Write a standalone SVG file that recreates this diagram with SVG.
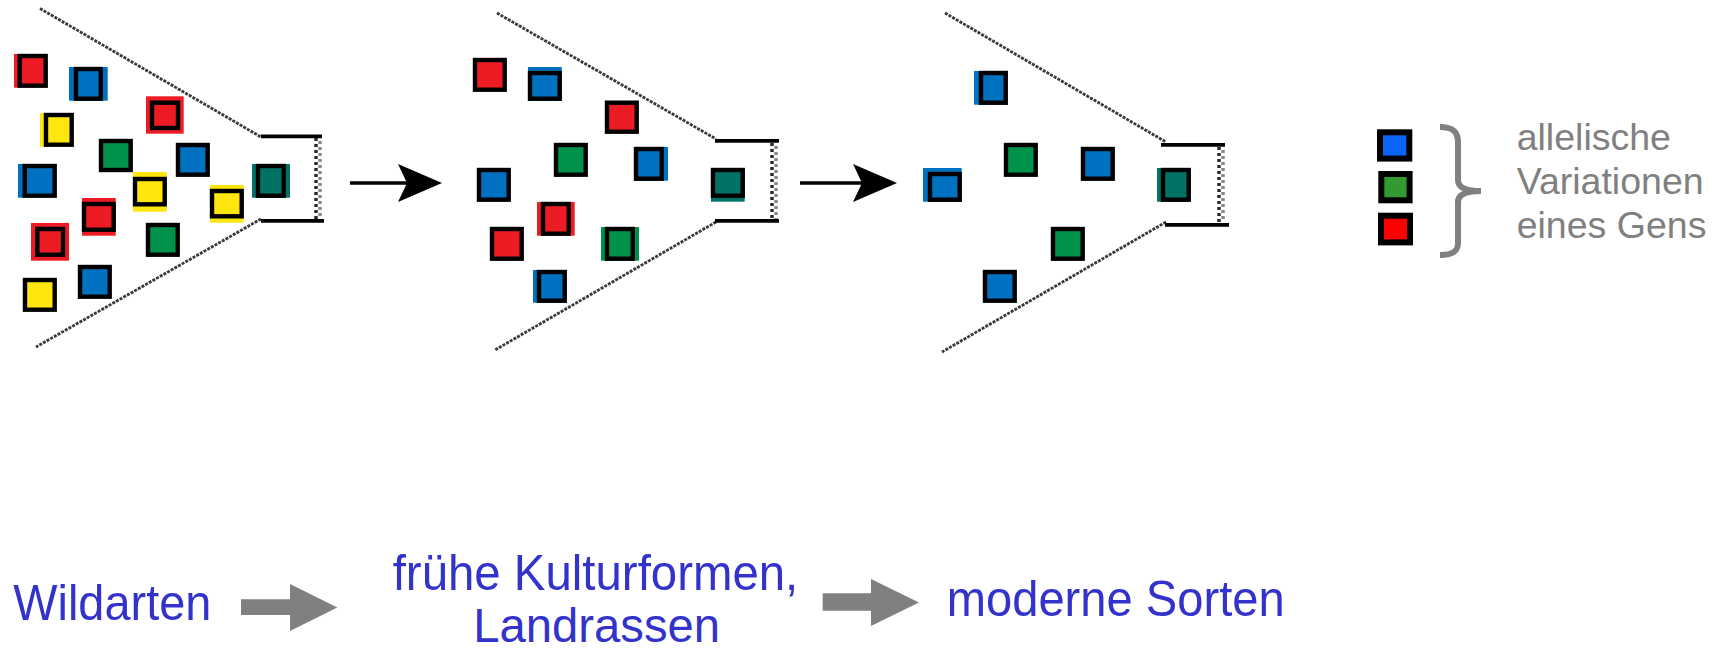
<svg xmlns="http://www.w3.org/2000/svg" width="1719" height="653" viewBox="0 0 1719 653">
<style>
.k{stroke:#000;stroke-width:4.4}
.r{fill:#ed1c24}.b{fill:#0070c0}.g{fill:#00914a}.y{fill:#ffe60f}.t{fill:#007366}
.fun{stroke:#3a3a3a;stroke-width:2.8;fill:none;stroke-dasharray:3 1.2}
.bar{stroke:#000;stroke-width:3.8;fill:none}
.h1{stroke:#2a2a2a;stroke-width:3.5;stroke-dasharray:3 3;fill:none}
.h2{stroke:#888;stroke-width:3.5;stroke-dasharray:3 3;stroke-dashoffset:3;fill:none}
.lbl{font-family:"Liberation Sans",Arial,sans-serif;fill:#3333cc;font-size:50px}
.leg{font-family:"Liberation Sans",Arial,sans-serif;fill:#808080;font-size:37.5px}
.lk{stroke:#000;stroke-width:6}
.blk{fill:#808080}
.con{stroke:#000;stroke-width:3.6;fill:none}
</style>
<defs>
<marker id="ah" markerUnits="userSpaceOnUse" markerWidth="44" markerHeight="38" viewBox="0 0 44 38" refX="22" refY="19" orient="auto">
<polygon points="0,0 44,19 0,38 9,19" fill="#000"/>
</marker>
</defs>

<g id="panel1">
<line class="fun" x1="40" y1="8.5" x2="261" y2="137"/>
<line class="fun" x1="261" y1="219" x2="36" y2="347"/>
<line class="bar" x1="261" y1="136.3" x2="322" y2="136.3"/>
<line class="bar" x1="261" y1="220.8" x2="324" y2="220.8"/>
<line class="h1" x1="316" y1="138" x2="316" y2="219"/>
<line class="h2" x1="320" y1="138" x2="320" y2="219"/>
<rect class="r" x="14" y="54" width="5" height="33.7"/>
<rect class="r k" x="19.7" y="56" width="26" height="29.7"/>
<rect class="b" x="69" y="67" width="38.7" height="33.7"/>
<rect class="b k" x="76" y="69" width="24.7" height="29.7"/>
<rect class="r" x="146" y="96.3" width="37.7" height="37.4"/>
<rect class="r k" x="152" y="102.7" width="26" height="25.3"/>
<rect class="y" x="40" y="113" width="5" height="33.7"/>
<rect class="y k" x="46" y="115" width="25.7" height="29.7"/>
<rect class="g k" x="101" y="141" width="29.7" height="29"/>
<rect class="b k" x="178" y="145" width="29.7" height="29.7"/>
<rect class="b" x="18" y="164" width="6" height="33.7"/>
<rect class="b k" x="24.7" y="166" width="30" height="29.7"/>
<rect class="t" x="252" y="164" width="38" height="33.7"/>
<rect class="t k" x="258" y="166" width="25.7" height="29.7"/>
<rect class="y" x="133" y="172" width="33.7" height="39.7"/>
<rect class="y k" x="135" y="179" width="29.7" height="25.3"/>
<rect class="r" x="82" y="198" width="33.7" height="37.7"/>
<rect class="r k" x="84" y="204" width="29.7" height="25.7"/>
<rect class="y" x="210" y="185" width="33.7" height="37.7"/>
<rect class="y k" x="212" y="191" width="29.7" height="25.3"/>
<rect class="r" x="31" y="223" width="38" height="37.7"/>
<rect class="r k" x="37.3" y="229" width="25.7" height="25.7"/>
<rect class="g k" x="148" y="225" width="29.7" height="29.7"/>
<rect class="b k" x="80" y="267" width="29.7" height="29.7"/>
<rect class="y k" x="25" y="280" width="29.7" height="29.7"/>
</g>

<g id="panel2">
<line class="fun" x1="497" y1="13" x2="716" y2="139"/>
<line class="fun" x1="716" y1="222" x2="495" y2="350"/>
<line class="bar" x1="715" y1="140.8" x2="779" y2="140.8"/>
<line class="bar" x1="715" y1="220.8" x2="779" y2="220.8"/>
<line class="h1" x1="772" y1="143" x2="772" y2="219"/>
<line class="h2" x1="776" y1="143" x2="776" y2="219"/>
<rect class="r k" x="475" y="60" width="29.7" height="29.7"/>
<rect class="b" x="528" y="67" width="33.7" height="33.7"/>
<rect class="b k" x="530" y="73" width="29.7" height="25.7"/>
<rect class="r k" x="607" y="102.7" width="29.7" height="29"/>
<rect class="g k" x="556" y="145" width="29.7" height="29.7"/>
<rect class="b" x="634" y="147" width="34" height="33.7"/>
<rect class="b k" x="636" y="149" width="25.7" height="29.7"/>
<rect class="b k" x="479" y="170" width="29.7" height="29.7"/>
<rect class="t" x="711" y="168" width="33.7" height="33.7"/>
<rect class="t k" x="713" y="170" width="29.7" height="25.7"/>
<rect class="r" x="537" y="202" width="37.7" height="33.7"/>
<rect class="r k" x="543" y="204" width="25.7" height="29.7"/>
<rect class="r k" x="492" y="229" width="29.7" height="29.7"/>
<rect class="g" x="601" y="227" width="38" height="33.7"/>
<rect class="g k" x="607" y="229" width="25.7" height="29.7"/>
<rect class="b" x="533" y="270" width="33.7" height="32.7"/>
<rect class="b k" x="539" y="272" width="25.7" height="28.7"/>
</g>

<g id="panel3">
<line class="fun" x1="945" y1="13" x2="1166" y2="142"/>
<line class="fun" x1="1166" y1="222" x2="942" y2="352"/>
<line class="bar" x1="1161" y1="144.8" x2="1225" y2="144.8"/>
<line class="bar" x1="1165" y1="224.8" x2="1229" y2="224.8"/>
<line class="h1" x1="1219" y1="147" x2="1219" y2="222"/>
<line class="h2" x1="1223" y1="147" x2="1223" y2="222"/>
<rect class="b" x="974" y="71" width="33.7" height="33.7"/>
<rect class="b k" x="981" y="73" width="24.7" height="29.7"/>
<rect class="g k" x="1006" y="145" width="29.7" height="29.7"/>
<rect class="b k" x="1083" y="149" width="29.7" height="29.7"/>
<rect class="b" x="923" y="168" width="38.7" height="33.7"/>
<rect class="b k" x="930" y="174" width="29.7" height="25.7"/>
<rect class="t" x="1157" y="168" width="33.7" height="33.7"/>
<rect class="t k" x="1163" y="170" width="25.7" height="29.7"/>
<rect class="g k" x="1053" y="229" width="29.7" height="29.7"/>
<rect class="b k" x="985" y="272" width="29.7" height="28.7"/>
</g>

<g id="legend">
<rect class="lk" x="1380" y="132.3" width="29.3" height="26.3" fill="#0a64f5"/>
<rect class="lk" x="1381.3" y="174" width="28.3" height="26.3" fill="#339933"/>
<rect class="lk" x="1381" y="215.7" width="29" height="26.7" fill="#ff0000"/>
<path d="M1440,127 C1452,127 1458,131 1458,142 L1458,180 C1458,187 1465,191 1481,191 C1465,191 1458,195 1458,202 L1458,243 C1458,252 1452,255 1440,255" fill="none" stroke="#808080" stroke-width="6"/>
<text class="leg" x="1516.7" y="150">allelische</text>
<text class="leg" x="1516.7" y="194">Variationen</text>
<text class="leg" x="1516.7" y="238">eines Gens</text>
</g>

<g id="label-wild"><text class="lbl" x="13.3" y="620" textLength="198" lengthAdjust="spacingAndGlyphs">Wildarten</text></g>
<g id="label-frueh">
<text class="lbl" x="392.7" y="590" textLength="405.6" lengthAdjust="spacingAndGlyphs">frühe Kulturformen,</text>
<text class="lbl" x="473.3" y="642" textLength="246.7" lengthAdjust="spacingAndGlyphs" style="font-size:48px">Landrassen</text>
</g>
<g id="label-modern"><text class="lbl" x="946.7" y="616" textLength="338" lengthAdjust="spacingAndGlyphs">moderne Sorten</text></g>

<g id="connectors">
<line class="con" x1="350" y1="183" x2="420" y2="183" marker-end="url(#ah)"/>
<line class="con" x1="800" y1="183" x2="875" y2="183" marker-end="url(#ah)"/>
<polygon class="blk" points="241,599.3 290,599.3 290,584 337.3,607.5 290,631 290,615 241,615"/>
<polygon class="blk" points="822.7,593.3 871,593.3 871,579 919,602.5 871,626 871,610.7 822.7,610.7"/>
</g>
</svg>
